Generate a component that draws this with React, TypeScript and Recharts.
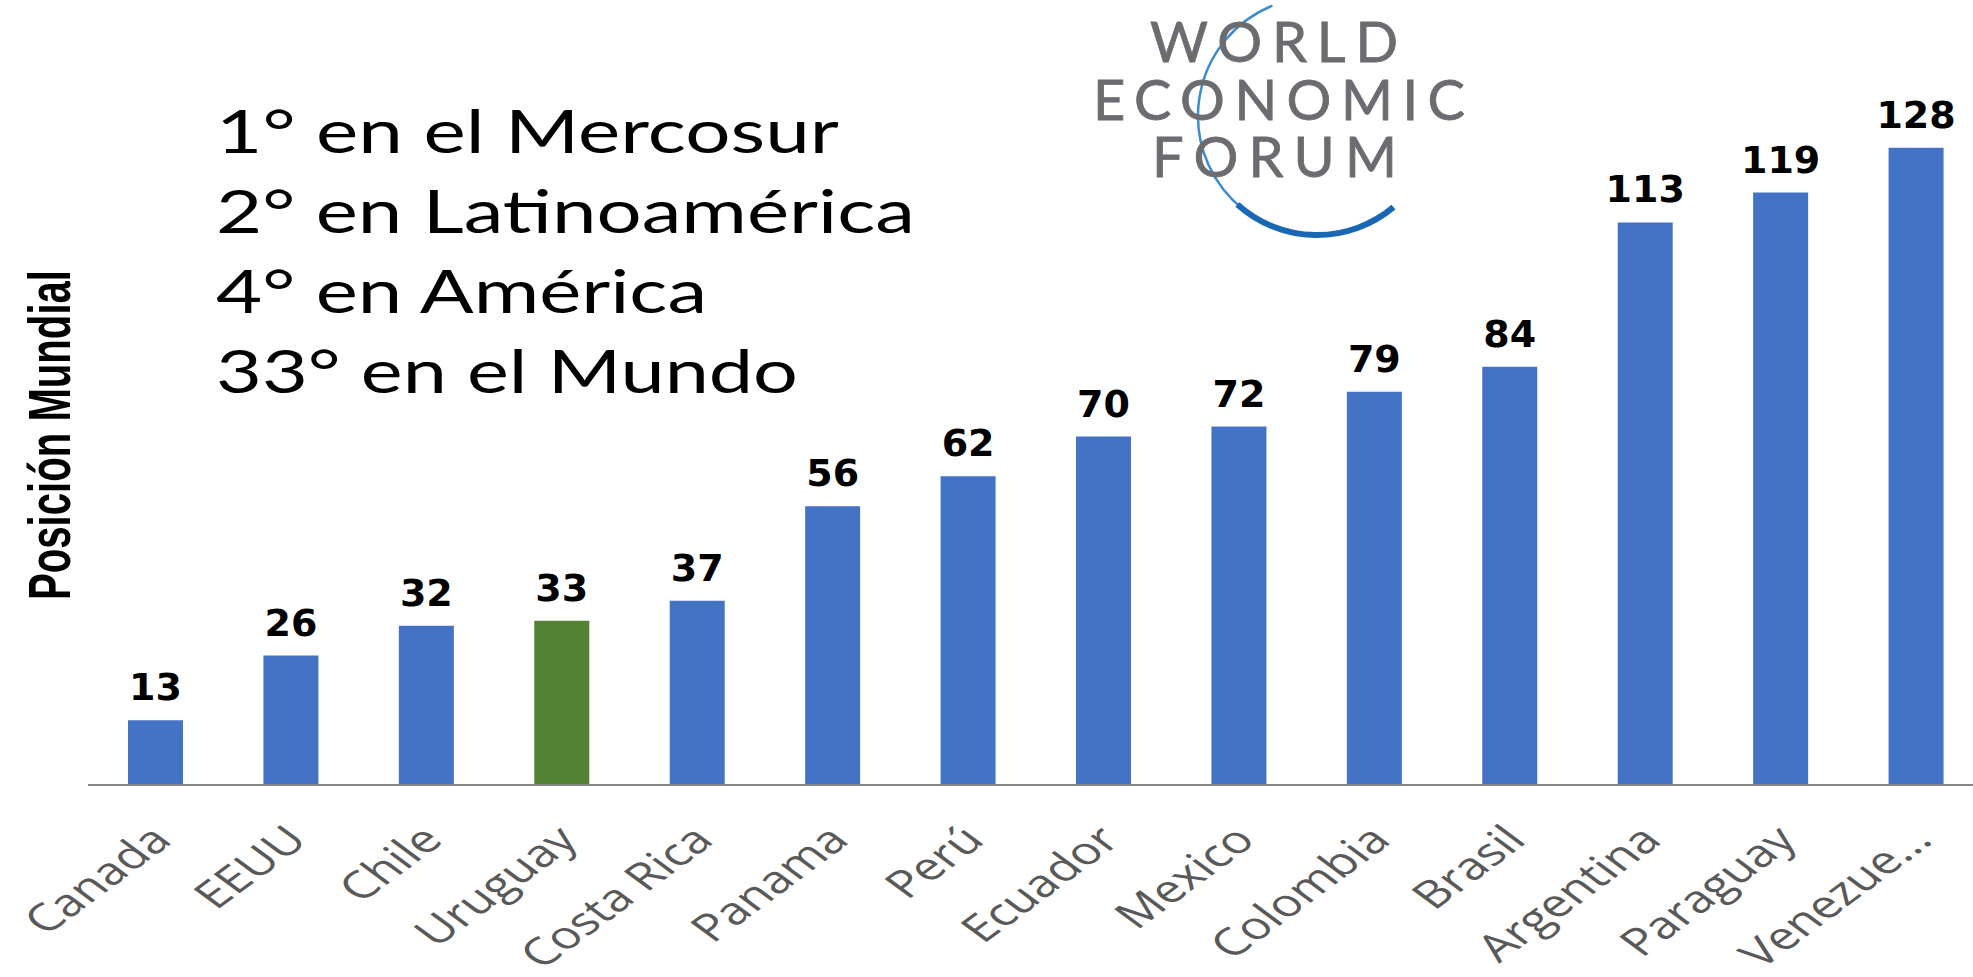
import React from "react";
import { Bar, BarChart, Cell, LabelList, XAxis, YAxis } from "recharts";

const countries = [
	"Canada",
	"EEUU",
	"Chile",
	"Uruguay",
	"Costa Rica",
	"Panama",
	"Perú",
	"Ecuador",
	"Mexico",
	"Colombia",
	"Brasil",
	"Argentina",
	"Paraguay",
	"Venezue...",
];
const ranks = [13, 26, 32, 33, 37, 56, 62, 70, 72, 79, 84, 113, 119, 128];
const highlighted = "Uruguay";
const headlines = ["1° en el Mercosur", "2° en Latinoamérica", "4° en América", "33° en el Mundo"];
const headlineWidths = [623, 699, 491, 582];
const logoWords = ["WORLD", "ECONOMIC", "FORUM"];

const data = countries.map((country, i) => ({ country, rank: ranks[i] }));

// the source slide is stretched sideways, so the 45° labels are widened too
const CountryTick = (props: any) => {
	const { x, y, payload } = props;
	const tx = x + 18;
	const ty = y + 49;
	return (
		<g transform={`translate(${tx},${ty}) scale(1.35,1) rotate(-45)`}>
			<text x={0} y={0} textAnchor="end" fill="#595959" fontSize={38} fontFamily="'Open Sans', sans-serif">
				{payload.value}
			</text>
		</g>
	);
};

// logo + headline text drawn over the chart
const Overlay: React.FC = () => {
	const cx = 1317;
	const cy = 116;
	const r = 119;
	const pt = (deg: number) => {
		const a = (deg * Math.PI) / 180;
		return `${cx + r * Math.cos(a)} ${cy + r * Math.sin(a)}`;
	};
	return (
		<svg width={1973} height={977} style={{ position: "absolute", left: 0, top: 0, pointerEvents: "none" }}>
			{headlines.map((t, i) => (
				<text
					key={t}
					x={216}
					y={153 + i * 80}
					fontSize={60}
					fontFamily="Lato, sans-serif"
					fill="#000"
					textLength={headlineWidths[i]}
					lengthAdjust="spacingAndGlyphs"
				>
					{t}
				</text>
			))}
			<g transform="translate(70,435) scale(1.2,1) rotate(-90)">
				<text
					x={0}
					y={0}
					textAnchor="middle"
					fontSize={50}
					fontWeight={700}
					fontFamily="'Liberation Sans Narrow', 'Liberation Sans', sans-serif"
					fill="#000"
					textLength={330}
					lengthAdjust="spacingAndGlyphs"
				>
					Posición Mundial
				</text>
			</g>
			<path d={`M ${pt(248)} A ${r} ${r} 0 0 0 ${pt(128)}`} fill="none" stroke="#3d8bd0" strokeWidth={2.5} />
			<path d={`M ${pt(132)} A ${r} ${r} 0 0 0 ${pt(50)}`} fill="none" stroke="#1a68b3" strokeWidth={6} />
			{logoWords.map((w, i) => (
				<text
					key={w}
					x={[1150, 1093, 1152][i]}
					y={[62, 120, 177][i]}
					fontSize={56}
					fontFamily="Lato, sans-serif"
					fill="#6b6c70"
					stroke="#6b6c70"
					strokeWidth={0.8}
					textLength={[248, 372, 245][i]}
					lengthAdjust="spacing"
				>
					{w}
				</text>
			))}
		</svg>
	);
};

export default function App() {
	return (
		<div style={{ position: "absolute", left: 0, top: 0, width: 1973, height: 977, overflow: "hidden", background: "#fff" }}>
			<BarChart width={1984} height={977} data={data} margin={{ top: 88, right: 0, bottom: 0, left: 88 }}>
				<YAxis hide domain={[0, 140]} />
				<XAxis
					dataKey="country"
					interval={0}
					tickLine={false}
					axisLine={{ stroke: "#868686", strokeWidth: 2 }}
					tick={<CountryTick />}
					height={192}
				/>
				<Bar dataKey="rank" barSize={55} isAnimationActive={false}>
					{data.map((d) => (
						<Cell key={d.country} fill={d.country === highlighted ? "#548235" : "#4472C4"} />
					))}
					<LabelList
						dataKey="rank"
						position="top"
						offset={20}
						fill="#000"
						fontSize={38}
						fontWeight={700}
						fontFamily="'DejaVu Sans', sans-serif"
					/>
				</Bar>
			</BarChart>
			<Overlay />
		</div>
	);
}
